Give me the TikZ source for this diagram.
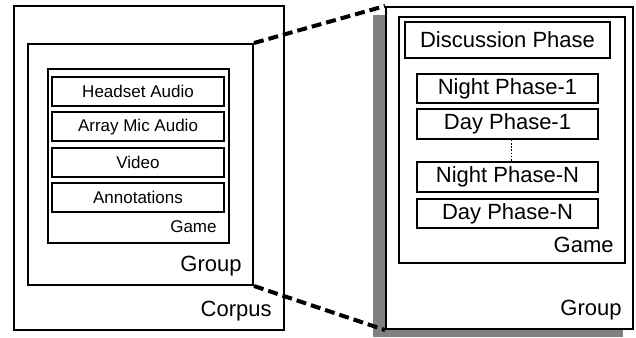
\documentclass[tikz,border=0pt]{standalone}
\usepackage{fontspec}
\setmainfont{Liberation Sans}
\usetikzlibrary{positioning}
\definecolor{shadowgray}{RGB}{128,128,128}

\begin{document}
\begin{tikzpicture}[x=0.5pt, y=-0.5pt,
    frame/.style={draw, line width=1pt, fill=white, inner sep=0pt, anchor=north west},
    item/.style={draw, line width=1pt, inner sep=0pt, minimum width=86pt, minimum height=14.5pt, font=\fontsize{8.5}{10}\selectfont},
    phase/.style={draw, line width=1pt, inner sep=0pt, minimum width=90.5pt, minimum height=14.75pt, font=\fontsize{11}{13}\selectfont},
    small/.style={anchor=east, inner sep=0pt, font=\fontsize{8.5}{10}\selectfont},
    big/.style={anchor=east, inner sep=0pt, font=\fontsize{11}{13}\selectfont},
    link/.style={line width=2pt, dash pattern=on 5pt off 2.5pt}]
    \useasboundingbox (0,0) rectangle (636,337);

    % nested boxes on the left
    \node[frame, minimum width=135pt, minimum height=162pt] (corpus) at (13,5) {};
    \node[frame, minimum width=112.5pt, minimum height=120.5pt] (group) at (27,43) {};
    \node[frame, minimum width=90.5pt, minimum height=87pt] (game) at (47,68) {};
    \foreach \name [count=\i from 0] in {Headset Audio, Array Mic Audio, Video, Annotations}
        \node[item] (src\i) at (138, {91.5+35.3*\i}) {\name};
    \node[small] (gamelabel) at (217,227) {Game};
    \node[big] (grouplabel) at (242,266) {Group};
    \node[big] (corpuslabel) at (272,311) {Corpus};

    % zoomed group on the right, with its drop shadow
    \fill[shadowgray] (373,15) rectangle (623,337);
    \node[frame, minimum width=123.5pt, minimum height=161pt] (group2) at (385,6) {};
    \node[frame, minimum width=113pt, minimum height=123pt] (game2) at (398,16) {};
    \node[phase, minimum width=102.5pt, minimum height=18pt] (discussion) at (507.5,40) {Discussion Phase};
    \foreach \y/\name/\id in {88.5/Night Phase-1/night1, 124/Day Phase-1/day1,
                              177/Night Phase-N/nightN, 213.5/Day Phase-N/dayN}
        \node[phase] (\id) at (507.5,\y) {\name};
    \draw[line width=0.6pt, dash pattern=on 0.8pt off 0.8pt] ([xshift=2pt]day1.south) -- ([xshift=2pt]nightN.north);
    \node[big] (gamelabel2) at (614,245) {Game};
    \node[big] (grouplabel2) at (622,310) {Group};

    \draw[link] (group.north east) -- (group2.north west);
    \draw[link] (group.south east) -- (group2.south west);
\end{tikzpicture}
\end{document}
